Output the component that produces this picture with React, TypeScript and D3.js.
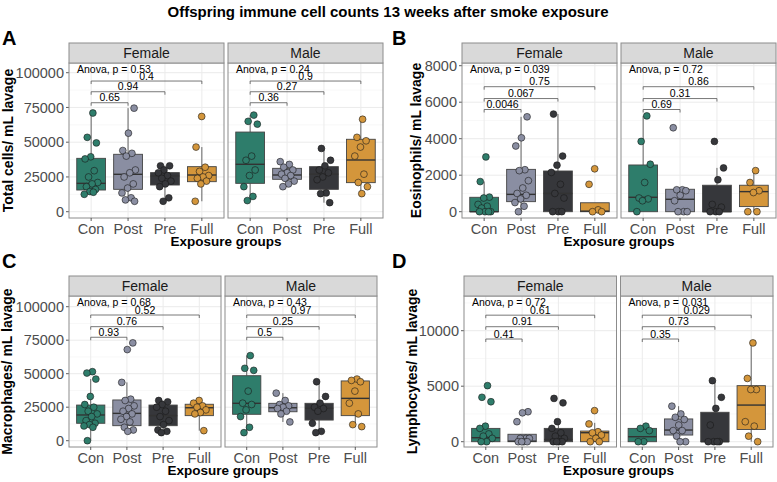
import React from 'react';
import * as d3 from 'd3';

const GROUPS = ['Con', 'Post', 'Pre', 'Full'];
const SEXES = ['Female', 'Male'];
const GROUP_COLORS = ['#2E7D6B', '#8A8EA2', '#36373B', '#D4963B'];

// A: total cells (points per group, box = [lo, q1, median, q3, hi])
const A_FEMALE_POINTS = [
  [71000, 53500, 49500, 39500, 38000, 29500, 25000, 21000, 20000, 18000, 16000, 14500, 12500, 14000],
  [74500, 56500, 44000, 42000, 40000, 30000, 28000, 25000, 20000, 17000, 13500, 10000, 8500, 7500],
  [33000, 33000, 30000, 28000, 26000, 24000, 22000, 20000, 18000, 10000, 7500],
  [68500, 46500, 32000, 29000, 26000, 25000, 24000, 22000, 20000, 7500],
];
const A_MALE_POINTS = [
  [69500, 65000, 63000, 40000, 37000, 30000, 26000, 18000, 11000, 8000],
  [36000, 34000, 32000, 30000, 28000, 27000, 26000, 24000, 22000, 20000, 18000],
  [45500, 37000, 33000, 30000, 28000, 25000, 23000, 13500, 13000, 6500],
  [66500, 53500, 51000, 46500, 40000, 27000, 21000, 18000, 13000],
];
const A_FEMALE_BOXES = [[12000, 15600, 20400, 38400, 71000], [7500, 16100, 26900, 41300, 74500], [7500, 19200, 25700, 28100, 33000], [7500, 21600, 26400, 32400, 46500]];
const A_MALE_BOXES = [[8000, 20400, 34100, 57300, 69500], [18000, 23300, 26400, 31200, 36000], [6500, 16100, 27000, 32400, 45500], [13000, 20900, 37200, 52100, 66500]];
const A_ANOVA = ['0.53', '0.24'];
const A_COMPARISONS = [['0.65', '0.94', '0.4'], ['0.36', '0.27', '0.9']];
const A_BRACKETS = [78400, 86300, 94000];
const A_TICKS = [0, 25000, 50000, 75000, 100000];

// B: eosinophils
const B_FEMALE_POINTS = [
  [3000, 1650, 800, 750, 400, 300, 200, 0, 0, 0, 0],
  [5200, 4050, 3600, 2300, 2250, 1700, 1300, 1000, 900, 700, 500, 300, 0],
  [5350, 3050, 2550, 2150, 1500, 1000, 750, 0, 0, 0],
  [2350, 1500, 100, 0, 0],
];
const B_MALE_POINTS = [
  [5250, 3850, 2600, 1600, 750, 700, 600, 0],
  [4600, 1200, 1200, 1150, 900, 600, 0, 0, 0],
  [3850, 2400, 1750, 400, 250, 0, 0, 0],
  [2250, 1600, 1150, 1050, 0, 0],
];
const B_FEMALE_BOXES = [[0, 0, 0, 790, 1650], [0, 550, 950, 2320, 5200], [0, 0, 1000, 2230, 5350], [0, 0, 30, 490, 490]];
const B_MALE_BOXES = [[0, 0, 790, 2560, 5250], [0, 0, 680, 1230, 1230], [0, 0, 0, 1450, 2400], [0, 280, 1100, 1450, 2250]];
const B_ANOVA = ['0.039', '0.72'];
const B_COMPARISONS = [['0.0046', '0.067', '0.75'], ['0.69', '0.31', '0.86']];
const B_BRACKETS = [5600, 6200, 6850];
const B_TICKS = [0, 2000, 4000, 6000, 8000];

// C: macrophages
const C_FEMALE_POINTS = [
  [51500, 50500, 46000, 33000, 27000, 25000, 22000, 20000, 18000, 15000, 13000, 12000, 11000, 10000, 0],
  [73000, 68000, 43500, 31000, 30000, 26000, 24000, 22000, 20000, 18000, 16000, 14000, 10000, 8000, 7000],
  [30000, 29000, 27000, 25000, 22000, 18000, 15000, 12000, 8000, 7000, 6000],
  [30000, 28000, 26000, 25000, 23000, 21000, 20000, 7500],
];
const C_MALE_POINTS = [
  [63500, 54000, 52500, 37000, 28000, 27000, 23000, 18000, 10000, 6000],
  [35500, 30000, 27000, 26000, 25000, 24000, 22000, 20000, 14000],
  [44000, 33000, 28000, 25000, 24000, 22000, 13000, 7000, 6000],
  [46000, 45000, 44000, 37000, 28000, 20000, 12000, 10500],
];
const C_FEMALE_BOXES = [[0, 13000, 19200, 26600, 46000], [7000, 11200, 20400, 30400, 43500], [6000, 11200, 18700, 26600, 30000], [7500, 18700, 24600, 27200, 30000]];
const C_MALE_BOXES = [[6000, 19700, 27900, 48500, 63500], [14000, 21600, 24600, 27900, 35500], [6000, 15400, 24200, 27900, 44000], [10500, 18700, 31600, 44600, 46000]];
const C_ANOVA = ['0.68', '0.43'];
const C_COMPARISONS = [['0.93', '0.76', '0.52'], ['0.5', '0.25', '0.97']];
const C_BRACKETS = [77200, 85100, 93800];
const C_TICKS = [0, 25000, 50000, 75000, 100000];

// D: lymphocytes
const D_FEMALE_POINTS = [
  [5050, 4000, 3600, 1400, 1200, 700, 500, 300, 0, 0],
  [2700, 2600, 1800, 300, 300, 300, 0, 0, 0, 0],
  [3900, 3500, 1800, 1200, 800, 500, 300, 0, 0, 0, 0],
  [2800, 1600, 900, 800, 600, 300, 0, 0],
];
const D_MALE_POINTS = [
  [1400, 1200, 1000, 0, 0],
  [3200, 2500, 2200, 2000, 1500, 1000, 1000, 500, 0, 0],
  [5500, 4000, 3000, 1500, 0, 0, 0, 0],
  [8900, 5700, 4700, 4700, 1800, 1400, 500, 0],
];
const D_FEMALE_BOXES = [[0, 0, 360, 1200, 1400], [0, 0, 50, 670, 670], [0, 0, 200, 1200, 1800], [0, 0, 810, 960, 1700]];
const D_MALE_BOXES = [[0, 0, 450, 1200, 1400], [0, 600, 1050, 2050, 3200], [0, 0, 0, 2650, 5500], [0, 1100, 3300, 5050, 8900]];
const D_ANOVA = ['0.72', '0.031'];
const D_COMPARISONS = [['0.41', '0.91', '0.61'], ['0.35', '0.73', '0.029']];
const D_BRACKETS = [9250, 10360, 11400];
const D_TICKS = [0, 5000, 10000];

const FONT = '"Liberation Sans", Arial, Helvetica, sans-serif';

const PANELS = [
  {
    letter: 'A', title: 'Total cells/ mL lavage', letterX: 2, letterY: 45, titleX: 13,
    x0: 69, x1: 383, top: 63, bottom: 218, yRange: [211.7, 72.7],
    points: [A_FEMALE_POINTS, A_MALE_POINTS], boxes: [A_FEMALE_BOXES, A_MALE_BOXES],
    anova: A_ANOVA, comps: A_COMPARISONS, brackets: A_BRACKETS, ticks: A_TICKS,
  },
  {
    letter: 'B', title: 'Eosinophils/ mL lavage', letterX: 392, letterY: 45, titleX: 421,
    x0: 462, x1: 776, top: 63, bottom: 218, yRange: [211.7, 65.7],
    points: [B_FEMALE_POINTS, B_MALE_POINTS], boxes: [B_FEMALE_BOXES, B_MALE_BOXES],
    anova: B_ANOVA, comps: B_COMPARISONS, brackets: B_BRACKETS, ticks: B_TICKS,
  },
  {
    letter: 'C', title: 'Macrophages/ mL lavage', letterX: 2, letterY: 268, titleX: 12,
    x0: 69, x1: 377, top: 296, bottom: 447, yRange: [440.7, 306.7],
    points: [C_FEMALE_POINTS, C_MALE_POINTS], boxes: [C_FEMALE_BOXES, C_MALE_BOXES],
    anova: C_ANOVA, comps: C_COMPARISONS, brackets: C_BRACKETS, ticks: C_TICKS,
  },
  {
    letter: 'D', title: 'Lymphocytes/ mL lavage', letterX: 392, letterY: 268, titleX: 417,
    x0: 464, x1: 773, top: 296, bottom: 447, yRange: [441.7, 330.7],
    points: [D_FEMALE_POINTS, D_MALE_POINTS], boxes: [D_FEMALE_BOXES, D_MALE_BOXES],
    anova: D_ANOVA, comps: D_COMPARISONS, brackets: D_BRACKETS, ticks: D_TICKS,
  },
];

const GAP = 4;
const STRIP_H = 20;

function Panel({ p }) {
  const w = (p.x1 - p.x0 - GAP) / 2;
  const ticks = p.ticks;
  const y = d3.scaleLinear().domain([ticks[0], ticks[ticks.length - 1]]).range(p.yRange);
  const tstep = ticks[1] - ticks[0];
  const minor = d3.range(ticks[0] - tstep / 2, ticks[ticks.length - 1] + tstep, tstep)
    .filter(v => y(v) > p.top && y(v) < p.bottom);
  const majors = ticks.filter(v => y(v) > p.top && y(v) < p.bottom);

  return (
    <g>
      <text x={p.letterX} y={p.letterY} fontSize={20} fontWeight="bold" fill="#000">{p.letter}</text>
      <text transform={`translate(${p.titleX},${(p.top + p.bottom) / 2}) rotate(-90)`} textAnchor="middle"
        fontSize={14} fontWeight="bold" fill="#000">{p.title}</text>
      {ticks.map(t => (
        <g key={t}>
          <line x1={p.x0 - 3} x2={p.x0} y1={y(t)} y2={y(t)} stroke="#333" strokeWidth={0.8} />
          <text x={p.x0 - 5} y={y(t)} dy="0.36em" textAnchor="end" fontSize={14.5} fill="#4D4D4D">{t}</text>
        </g>
      ))}
      {SEXES.map((sex, s) => {
        const px = p.x0 + s * (w + GAP);
        const x = d3.scalePoint().domain(GROUPS).range([px, px + w]).padding(0.6);
        const step = x.step();
        const bw = step * 0.78;
        const xc = x(GROUPS[0]);
        return (
          <g key={sex}>
            <rect x={px} y={p.top} width={w} height={p.bottom - p.top} fill="#fff" />
            {minor.map(v => <line key={'m' + v} x1={px} x2={px + w} y1={y(v)} y2={y(v)} stroke="#F3F3F3" strokeWidth={0.6} />)}
            {majors.map(v => <line key={'M' + v} x1={px} x2={px + w} y1={y(v)} y2={y(v)} stroke="#EBEBEB" strokeWidth={1} />)}
            {GROUPS.map(g => <line key={g} x1={x(g)} x2={x(g)} y1={p.top} y2={p.bottom} stroke="#EBEBEB" strokeWidth={1} />)}
            {p.boxes[s].map((b, gi) => {
              const cx = x(GROUPS[gi]);
              return (
                <g key={gi}>
                  <line x1={cx} x2={cx} y1={y(b[3])} y2={y(b[4])} stroke="#555" strokeWidth={0.9} />
                  <line x1={cx} x2={cx} y1={y(b[1])} y2={y(b[0])} stroke="#555" strokeWidth={0.9} />
                  <rect x={cx - bw / 2} y={y(b[3])} width={bw} height={Math.max(0.5, y(b[1]) - y(b[3]))}
                    fill={GROUP_COLORS[gi]} stroke="#444" strokeWidth={0.9} />
                  <line x1={cx - bw / 2} x2={cx + bw / 2} y1={y(b[2])} y2={y(b[2])} stroke="#333" strokeWidth={1.4} />
                </g>
              );
            })}
            {p.points[s].map((vals, gi) => vals.map((v, i) => {
              const off = ((((i + 1) * 0.618034 + gi * 0.29 + s * 0.13) % 1) - 0.5) * 0.4 * step;
              return (
                <circle key={gi + '-' + i} cx={x(GROUPS[gi]) + off} cy={y(v)} r={3.4}
                  fill={GROUP_COLORS[gi]} stroke="#1a1a1a" strokeWidth={0.6} />
              );
            }))}
            <text x={px + 8} y={p.top + 10} fontSize={10.5} fill="#000">{`Anova, p = ${p.anova[s]}`}</text>
            {p.comps[s].map((lab, j) => {
              const xt = x(GROUPS[j + 1]);
              const yy = y(p.brackets[j]);
              return (
                <g key={j}>
                  <path d={`M${xc},${yy + 3}V${yy}H${xt}V${yy + 3}`} fill="none" stroke="#555" strokeWidth={0.8} />
                  <text x={(xc + xt) / 2} y={yy - 1.5} textAnchor="middle" fontSize={10.5} fill="#000">{lab}</text>
                </g>
              );
            })}
            <rect x={px} y={p.top} width={w} height={p.bottom - p.top} fill="none" stroke="#8C8C8C" strokeWidth={1} />
            <rect x={px} y={p.top - STRIP_H} width={w} height={STRIP_H} fill="#D9D9D9" stroke="#8C8C8C" strokeWidth={1} />
            <text x={px + w / 2} y={p.top - STRIP_H / 2} dy="0.36em" textAnchor="middle" fontSize={14} fill="#1A1A1A">{sex}</text>
            {GROUPS.map(g => (
              <g key={'t' + g}>
                <line x1={x(g)} x2={x(g)} y1={p.bottom} y2={p.bottom + 3} stroke="#333" strokeWidth={0.8} />
                <text x={x(g)} y={p.bottom + 15.5} textAnchor="middle" fontSize={14.5} fill="#4D4D4D">{g}</text>
              </g>
            ))}
          </g>
        );
      })}
      <text x={(p.x0 + p.x1) / 2} y={p.bottom + 28} textAnchor="middle" fontSize={13.5} fontWeight="bold" fill="#000">Exposure groups</text>
    </g>
  );
}

export default function App() {
  return (
    <svg width={777} height={482} style={{ position: 'absolute', left: 0, top: 0, fontFamily: FONT }}>
      <rect width={777} height={482} fill="#fff" />
      <text x={388} y={17} textAnchor="middle" fontSize={15} fontWeight="bold" fill="#000">
        Offspring immune cell counts 13 weeks after smoke exposure
      </text>
      {PANELS.map(p => <Panel key={p.letter} p={p} />)}
    </svg>
  );
}
